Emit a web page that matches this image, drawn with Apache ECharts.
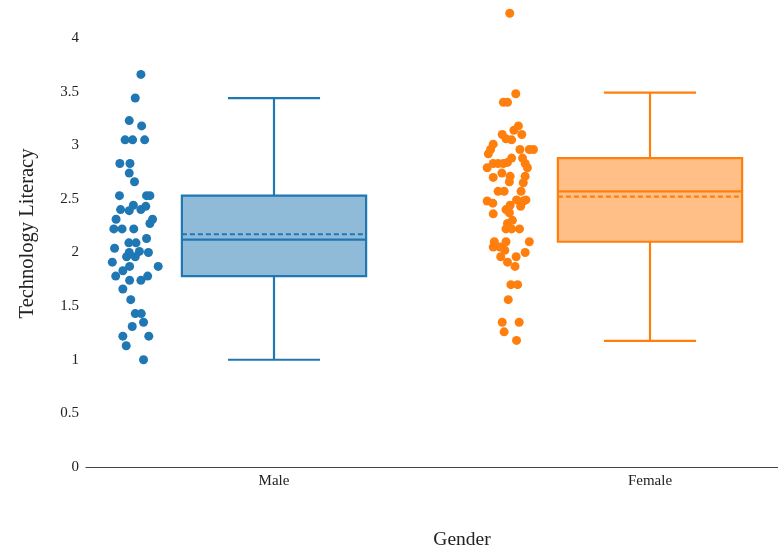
<!DOCTYPE html>
<html>
<head>
<meta charset="utf-8">
<script src="https://cdn.jsdelivr.net/npm/echarts@6/dist/echarts.min.js"></script>
<style>
  html, body { margin: 0; padding: 0; background: #fff; }
  #chart { width: 778px; height: 548px; }
</style>
</head>
<body>
<div id="chart"></div>
<script>
var groups = ['Male', 'Female']
var colors = ['#1f77b4', '#ff7f0e']
var fills = ['#8fbbd9', '#ffbf86']

// box stats: [group, min, q1, median, q3, max, mean]
var boxStats = [
  [0, 1.00, 1.78, 2.12, 2.53, 3.44, 2.17],
  [1, 1.175, 2.10, 2.57, 2.88, 3.49, 2.52]
]

// jittered points: [x, value]
var malePoints = [
  [-0.354, 3.66], [-0.369, 3.44], [-0.385, 3.23], [-0.352, 3.18], [-0.396, 3.05],
  [-0.376, 3.05], [-0.344, 3.05], [-0.410, 2.83], [-0.383, 2.83], [-0.385, 2.74],
  [-0.371, 2.66], [-0.411, 2.53], [-0.339, 2.53], [-0.330, 2.53], [-0.408, 2.40],
  [-0.385, 2.39], [-0.374, 2.44], [-0.354, 2.40], [-0.341, 2.43], [-0.420, 2.31],
  [-0.323, 2.31], [-0.330, 2.27], [-0.426, 2.22], [-0.404, 2.22], [-0.373, 2.22],
  [-0.339, 2.13], [-0.386, 2.09], [-0.367, 2.09], [-0.424, 2.04], [-0.385, 2.00],
  [-0.358, 2.01], [-0.334, 2.00], [-0.392, 1.96], [-0.369, 1.96], [-0.430, 1.91],
  [-0.384, 1.87], [-0.308, 1.87], [-0.402, 1.83], [-0.421, 1.78], [-0.336, 1.78],
  [-0.384, 1.74], [-0.354, 1.74], [-0.402, 1.66], [-0.381, 1.56], [-0.369, 1.43],
  [-0.353, 1.43], [-0.347, 1.35], [-0.377, 1.31], [-0.402, 1.22], [-0.333, 1.22],
  [-0.393, 1.13], [-0.347, 1.00]
]
var femalePoints = [
  [0.627, 4.23], [0.643, 3.48], [0.610, 3.40], [0.621, 3.40], [0.650, 3.18],
  [0.638, 3.14], [0.659, 3.10], [0.607, 3.10], [0.617, 3.06], [0.632, 3.05],
  [0.583, 3.01], [0.576, 2.96], [0.654, 2.96], [0.679, 2.96], [0.690, 2.96],
  [0.570, 2.92], [0.632, 2.88], [0.661, 2.88], [0.583, 2.83], [0.596, 2.83],
  [0.610, 2.83], [0.621, 2.84], [0.567, 2.79], [0.668, 2.83], [0.674, 2.79],
  [0.606, 2.74], [0.583, 2.70], [0.628, 2.71], [0.668, 2.71], [0.626, 2.66],
  [0.663, 2.65], [0.596, 2.57], [0.612, 2.57], [0.657, 2.57], [0.567, 2.48],
  [0.582, 2.46], [0.645, 2.49], [0.663, 2.48], [0.670, 2.49], [0.628, 2.44],
  [0.656, 2.43], [0.617, 2.40], [0.583, 2.36], [0.626, 2.37], [0.634, 2.30],
  [0.621, 2.27], [0.617, 2.22], [0.632, 2.22], [0.653, 2.22], [0.586, 2.10],
  [0.617, 2.10], [0.679, 2.10], [0.583, 2.05], [0.601, 2.05], [0.614, 2.02],
  [0.668, 2.00], [0.603, 1.96], [0.644, 1.96], [0.621, 1.91], [0.641, 1.87],
  [0.630, 1.70], [0.648, 1.70], [0.623, 1.56], [0.607, 1.35], [0.652, 1.35],
  [0.612, 1.26], [0.645, 1.18]
]

var boxHalf = 0.245
var capHalf = 0.1225
var font = '"Liberation Serif", "Times New Roman", serif'

var chart = echarts.init(document.getElementById('chart'))

function renderBox(params, api) {
  var i = params.dataIndex
  var x = api.value(0)
  var lo = api.coord([x - boxHalf, api.value(2)])
  var hi = api.coord([x + boxHalf, api.value(4)])
  var med = api.coord([x, api.value(3)])
  var mean = api.coord([x, api.value(6)])
  var wMin = api.coord([x, api.value(1)])
  var wMax = api.coord([x, api.value(5)])
  var capL = api.coord([x - capHalf, 0])[0]
  var capR = api.coord([x + capHalf, 0])[0]
  var c = colors[i]
  var line = { stroke: c, lineWidth: 2.2 }
  return {
    type: 'group',
    children: [
      { type: 'line', shape: { x1: med[0], y1: lo[1], x2: med[0], y2: wMin[1] }, style: line },
      { type: 'line', shape: { x1: med[0], y1: hi[1], x2: med[0], y2: wMax[1] }, style: line },
      { type: 'line', shape: { x1: capL, y1: wMin[1], x2: capR, y2: wMin[1] }, style: line },
      { type: 'line', shape: { x1: capL, y1: wMax[1], x2: capR, y2: wMax[1] }, style: line },
      { type: 'rect', shape: { x: lo[0], y: hi[1], width: hi[0] - lo[0], height: lo[1] - hi[1] },
        style: { fill: fills[i], stroke: c, lineWidth: 2.2 } },
      { type: 'line', shape: { x1: lo[0], y1: med[1], x2: hi[0], y2: med[1] }, style: line },
      { type: 'line', shape: { x1: lo[0], y1: mean[1], x2: hi[0], y2: mean[1] },
        style: { stroke: c, lineWidth: 2.2, lineDash: [5, 3] } }
    ]
  }
}

var option = {
  backgroundColor: '#fff',
  animation: false,
  grid: { left: 86, top: 0, width: 752, height: 467, outerBoundsMode: 'none', containLabel: false },
  xAxis: {
    type: 'value',
    min: -0.5,
    max: 1.5,
    interval: 0.5,
    name: 'Gender',
    nameLocation: 'middle',
    nameGap: 63,
    nameTextStyle: { fontFamily: font, fontSize: 19.5, color: '#222' },
    axisLine: { show: true, lineStyle: { color: '#444', width: 1.2 } },
    axisTick: { show: false },
    splitLine: { show: false },
    axisLabel: {
      fontFamily: font, fontSize: 15, color: '#222', margin: 7,
      formatter: function (v) {
        var k = Math.round(v)
        return (Math.abs(v - k) < 1e-6 && groups[k]) ? groups[k] : ''
      }
    }
  },
  yAxis: {
    type: 'value',
    min: 0,
    max: 4.354,
    interval: 0.5,
    name: 'Technology Literacy',
    nameLocation: 'middle',
    nameGap: 48,
    nameTextStyle: { fontFamily: font, fontSize: 20.5, color: '#222' },
    axisLine: { show: false },
    axisTick: { show: false },
    splitLine: { show: false },
    axisLabel: { fontFamily: font, fontSize: 15, color: '#222', margin: 7, showMaxLabel: false }
  },
  series: [
    { type: 'custom', renderItem: renderBox, data: boxStats, clip: false, z: 2 },
    { type: 'scatter', data: malePoints, symbolSize: 9,
      itemStyle: { color: colors[0], opacity: 1 }, z: 3 },
    { type: 'scatter', data: femalePoints, symbolSize: 9,
      itemStyle: { color: colors[1], opacity: 1 }, z: 3 }
  ]
}
chart.setOption(option)
</script>
</body>
</html>
